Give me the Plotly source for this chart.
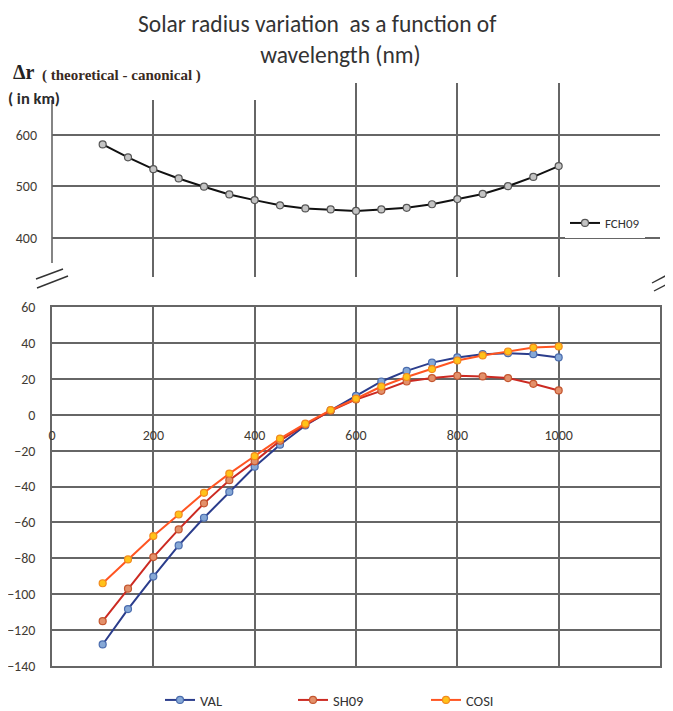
import plotly.graph_objects as go

# The page body adds an 8 px margin, so the figure is 8 px smaller and
# every reference pixel coordinate is shifted by 8 px.
OFF = 8
W, H = 673 - OFF, 711 - OFF

wavelength = [100, 150, 200, 250, 300, 350, 400, 450, 500, 550,
              600, 650, 700, 750, 800, 850, 900, 950, 1000]
fch09 = [581, 556, 533, 515, 499, 484, 473, 463, 457, 455,
         452, 455, 458, 465, 475, 485, 500, 518, 539]
val = [-128, -108.3, -90.2, -72.8, -57.4, -43, -29, -16.7, -6, 2.4,
       10.5, 18.5, 24.4, 29, 31.9, 33.7, 34.3, 33.7, 31.9]
sh09 = [-115, -96.9, -79.3, -63.9, -49.4, -36.5, -26, -14.5, -5.5, 2.2,
        8.5, 13.3, 18.5, 20.4, 21.7, 21.3, 20.4, 17.2, 13.5]
cosi = [-93.9, -80.6, -67.6, -55.6, -43.5, -32.8, -23.1, -13.3, -5, 2.6,
        8.9, 15.7, 21, 25.4, 30.2, 33, 35.2, 37.4, 38]

x_ticks = [0, 200, 400, 600, 800, 1000, 1200]
upper_y_ticks = [400, 500, 600]
lower_y_ticks = list(range(-140, 61, 20))

title_line1 = "Solar radius variation  as a function of"
title_line2 = "wavelength (nm)"

def px(x):
    return (x - OFF) / W

def py(y):
    return 1 - (y - OFF) / H

GRID = "#666666"
GW = 1.6
TICKC = "#3f3b34"
FONT = "Carlito, 'Open Sans', sans-serif"

fig = go.Figure()

fig.add_trace(go.Scatter(
    x=wavelength, y=fch09, name="FCH09", mode="lines+markers",
    xaxis="x2", yaxis="y2", legend="legend",
    line=dict(color="#111111", width=2),
    marker=dict(size=7, color="#c4c4c4", line=dict(color="#555555", width=1.2)),
))

series = [
    ("VAL", val, "#2b3d8c", "#86a8d6", "#4a6cae"),
    ("SH09", sh09, "#cc2a22", "#e3906a", "#c4562f"),
    ("COSI", cosi, "#ff5522", "#ffc21a", "#f28a1c"),
]
for name, ys, lc, mf, ml in series:
    fig.add_trace(go.Scatter(
        x=wavelength, y=ys, name=name, mode="lines+markers",
        xaxis="x", yaxis="y", legend="legend2",
        line=dict(color=lc, width=2),
        marker=dict(size=7, color=mf, line=dict(color=ml, width=1.2)),
    ))

# invisible carrier trace so the x-axis label axis (crossing at y=0) is drawn
fig.add_trace(go.Scatter(
    x=[x_ticks[0], x_ticks[-1]], y=[0, 0], xaxis="x3", yaxis="y",
    mode="markers", marker=dict(opacity=0), showlegend=False, hoverinfo="skip",
))

xdom = [px(52), px(660)]

fig.update_layout(
    width=W, height=H,
    margin=dict(l=0, r=0, t=0, b=0, autoexpand=False),
    paper_bgcolor="white", plot_bgcolor="white",
    font=dict(family=FONT, color=TICKC),
    xaxis=dict(domain=xdom, range=[0, 1200], tickvals=x_ticks,
               showgrid=True, gridcolor=GRID, gridwidth=GW,
               showticklabels=False, zeroline=False,
               showline=True, mirror=True, linecolor=GRID, linewidth=GW,
               anchor="y"),
    yaxis=dict(domain=[py(666), py(307)], range=[-140, 60], tickvals=lower_y_ticks,
               showgrid=True, gridcolor=GRID, gridwidth=GW, zeroline=False,
               showline=True, mirror=True, linecolor=GRID, linewidth=GW,
               ticks="", ticklabelstandoff=12,
               tickfont=dict(size=14, color=TICKC, family=FONT), anchor="x"),
    xaxis3=dict(overlaying="x", anchor="free", position=py(415),
                range=[0, 1200], tickvals=x_ticks, showgrid=False, zeroline=False,
                showline=False, ticks="", ticklabelstandoff=10, automargin=False,
                tickfont=dict(size=14, color=TICKC, family=FONT)),
    xaxis2=dict(domain=xdom, range=[0, 1200], tickvals=x_ticks[1:],
                showgrid=True, gridcolor=GRID, gridwidth=GW,
                showticklabels=False, zeroline=False, showline=False, anchor="y2"),
    yaxis2=dict(domain=[py(277), py(83)], range=[324, 700], tickvals=upper_y_ticks + [700],
                ticktext=[str(v) for v in upper_y_ticks] + [""],
                showgrid=True, gridcolor=GRID, gridwidth=GW, zeroline=False,
                showline=False, ticks="", ticklabelstandoff=14,
                tickfont=dict(size=14, color=TICKC, family=FONT), anchor="x2"),
    legend=dict(x=px(565), y=py(208), xanchor="left", yanchor="top",
                bgcolor="white", borderwidth=0,
                font=dict(size=13, color="#333333", family=FONT)),
    legend2=dict(orientation="h", x=px(160), y=py(700), xanchor="left", yanchor="middle",
                 entrywidth=88, entrywidthmode="pixels",
                 bgcolor="rgba(0,0,0,0)",
                 font=dict(size=14.5, color="#333333", family=FONT)),
    showlegend=True,
)

shapes = [
    dict(type="rect", xref="paper", yref="paper", x0=0, x1=px(262), y0=py(100), y1=py(60),
         fillcolor="white", line=dict(width=0), layer="above"),
    dict(type="line", xref="paper", yref="paper", x0=px(52), x1=px(52), y0=py(263), y1=py(100),
         line=dict(color=GRID, width=GW), layer="above"),
    dict(type="line", xref="paper", yref="paper", x0=px(36), y0=py(279), x1=px(63), y1=py(269),
         line=dict(color="#333333", width=1.4)),
    dict(type="line", xref="paper", yref="paper", x0=px(37), y0=py(288), x1=px(68), y1=py(276),
         line=dict(color="#333333", width=1.4)),
    dict(type="line", xref="paper", yref="paper", x0=px(652), y0=py(283), x1=px(671), y1=py(273),
         line=dict(color="#333333", width=1.4)),
    dict(type="line", xref="paper", yref="paper", x0=px(654), y0=py(291), x1=px(673), y1=py(281),
         line=dict(color="#333333", width=1.4)),
]
fig.update_layout(shapes=shapes)

NBSP = "\u00a0"
annotations = [
    dict(text=title_line1 + "<br>" + NBSP * 23 + title_line2,
         x=px(136), y=py(8.5), xanchor="left", yanchor="top", align="left",
         font=dict(size=23.5, color="#333333", family=FONT)),
    dict(text="<b>Δr</b>", x=px(11), y=py(72), xanchor="left",
         font=dict(size=20, color="#222222", family="'Liberation Serif', serif")),
    dict(text="<b>( theoretical - canonical )</b>", x=px(40), y=py(75), xanchor="left",
         font=dict(size=15, color="#3a2a22", family="'Liberation Serif', serif")),
    dict(text="<b>( in km)</b>", x=px(6), y=py(98), xanchor="left",
         font=dict(size=16.5, color="#2a2a2a", family=FONT)),
]
for a in annotations:
    a.update(xref="paper", yref="paper", showarrow=False)
    a.setdefault("xanchor", "center")
    a.setdefault("yanchor", "middle")
fig.update_layout(annotations=annotations)

fig.write_html("out.html")
